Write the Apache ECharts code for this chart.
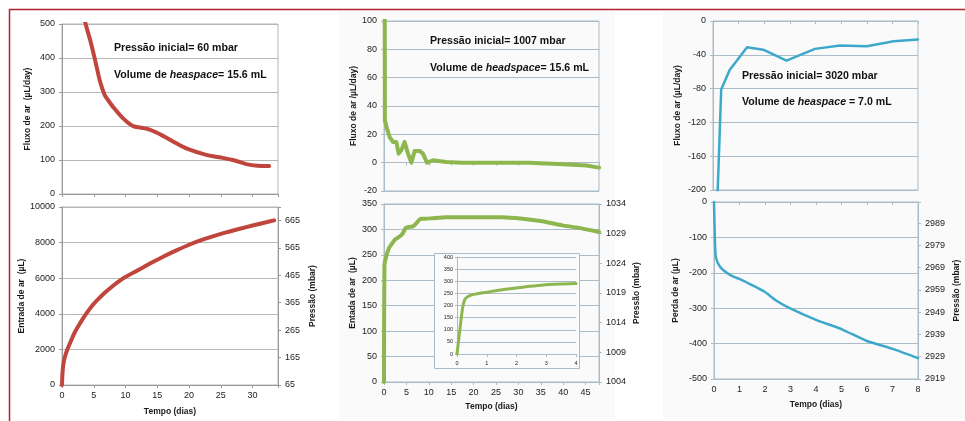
<!DOCTYPE html>
<html><head><meta charset="utf-8">
<script src="https://cdn.jsdelivr.net/npm/echarts@6/dist/echarts.min.js"></script>
<style>html,body{margin:0;padding:0;background:#fff}#c{width:965px;height:421px}</style>
</head><body><div id="c"></div>
<script>
// ---- Data ----
// Left panel: Pressão inicial 60 mbar
const fluxA_t = [3.5, 3.72, 4.4, 5.0, 5.5, 6.0, 6.7, 7.3, 8.0, 9.58, 11.15, 12.5, 13.8, 15.9, 18.0, 20.0, 22.7, 24.8, 26.9, 29.0, 30.8, 32.6];
const fluxA_v = [520, 500, 455, 410, 370, 330, 292, 275, 257, 223, 200, 195, 189, 171, 149, 131, 115, 108, 100, 88, 83, 82];
const inA_t = [0, 0.1, 0.3, 0.6, 0.84, 1.5, 2, 3, 3.6, 5, 6, 7, 8, 9, 9.9, 12, 14, 16, 18, 20, 22, 24, 26, 28, 30, 32, 33.4];
const inA_v = [0, 800, 1350, 1750, 2000, 2550, 2950, 3560, 3900, 4560, 4930, 5260, 5560, 5830, 6050, 6460, 6850, 7220, 7560, 7880, 8150, 8380, 8590, 8780, 8960, 9130, 9250];
// Middle panel: Pressão inicial 1007 mbar
const fluxB_t = [0, 0.05, 0.2, 0.67, 1.26, 2.0, 2.75, 3.27, 3.87, 4.6, 5.36, 6.1, 6.85, 7.96, 8.7, 9.6, 10.94, 13.9, 17.6, 25, 32.5, 40, 45.2, 48];
const fluxB_v = [400, 300, 30, 24, 18, 14.6, 14.6, 6.4, 8.7, 14.6, 6.4, 0, 8.3, 8.3, 6.4, 0, 1.7, 0.5, 0, 0, 0, -1.2, -2, -3.5];
const inB_t = [0, 0.1, 0.5, 1.1, 1.86, 2.6, 3.5, 4.24, 4.84, 5.58, 6.47, 7.2, 8.2, 9.3, 10.8, 13.8, 21.2, 26.4, 30.9, 35.3, 39.8, 43.5, 48];
const inB_v = [0, 230, 247, 263, 273, 281, 286, 293, 303, 305, 306, 312, 321, 321, 322, 324, 324, 324, 321, 316, 308, 303, 295];
const insetB_t = [0, 0.09, 0.18, 0.26, 0.38, 0.6, 1.06, 1.52, 1.98, 2.43, 2.89, 3.58, 4];
const insetB_v = [0, 93, 183, 224, 238, 247, 256, 265, 272, 279, 285, 289, 291];
// Right panel: Pressão inicial 3020 mbar
const fluxC_t = [0.12, 0.15, 0.32, 0.65, 1.33, 1.96, 2.87, 3.98, 4.96, 6.0, 7.05, 8.0];
const fluxC_v = [-400, -230, -81, -58, -31, -34, -47, -33, -29, -30, -24, -22];
const lossC_t = [0, 0.04, 0.08, 0.23, 0.5, 0.76, 1.02, 1.41, 1.97, 2.45, 2.97, 4.0, 5.06, 5.97, 7.01, 8.0];
const lossC_v = [0, -121, -158, -182, -200, -211, -218, -232, -253, -279, -300, -333, -361, -392, -415, -441];
// Right-axis (pressure) tick bases
const presA_min = 65, presB_min = 1004, presC_min = 2919;

const zip = (a, b) => a.map((v, i) => [v, b[i]]);
const isMult = (v, iv) => Math.abs(v / iv - Math.round(v / iv)) < 1e-6;

const FONT = '"Liberation Sans", Arial, sans-serif';
const RED = '#c0453c', GREEN = '#8db64e', BLUE = '#3ea8cb';
const GRAY = '#b7b7b7', BGRAY = '#a9bcc7';

function xAx(grid, max, interval, labels, lc, name, gap, fs) {
  return {
    type: 'value', gridIndex: grid, min: 0, max: max, interval: interval,
    name: name || '', nameLocation: 'middle', nameGap: gap || 20,
    nameTextStyle: { fontFamily: FONT, fontWeight: 'bold', fontSize: 8.5, color: '#1a1a1a' },
    axisLine: { show: true, lineStyle: { color: lc, width: 1 } },
    axisTick: { show: true, inside: false, length: 3, lineStyle: { color: lc } },
    axisLabel: { show: labels, margin: 6, fontFamily: FONT, fontSize: fs || 9, color: '#222',
      formatter: v => isMult(v, interval) ? String(v) : '' },
    splitLine: { show: false }, z: grid === 4 ? 5 : 0
  };
}
function yAx(grid, min, max, interval, lc, sc, name, gap, opts) {
  opts = opts || {};
  return Object.assign({
    type: 'value', gridIndex: grid, min: min, max: max, interval: interval,
    position: 'left',
    name: name || '', nameLocation: 'middle', nameGap: gap || 30, nameRotate: 90,
    nameTextStyle: { fontFamily: FONT, fontWeight: 'bold', fontSize: 8.5, color: '#1a1a1a' },
    axisLine: { show: true, lineStyle: { color: lc, width: 1 } },
    axisTick: { show: true, inside: false, length: 3, lineStyle: { color: lc } },
    axisLabel: { show: true, margin: 7, fontFamily: FONT, fontSize: 9, color: '#222', formatter: v => String(v) },
    splitLine: { show: true, lineStyle: { color: sc, width: 1 } }, z: grid === 4 ? 5 : 0
  }, opts);
}
function rightAx(grid, span, interval, base, lc, name, gap) {
  return {
    type: 'value', gridIndex: grid, min: 0, max: span, interval: interval, position: 'right',
    name: name, nameLocation: 'middle', nameGap: gap, nameRotate: 90,
    nameTextStyle: { fontFamily: FONT, fontWeight: 'bold', fontSize: 8.5, color: '#1a1a1a' },
    axisLine: { show: true, lineStyle: { color: lc } },
    axisTick: { show: true, length: 3, lineStyle: { color: lc } },
    axisLabel: { show: true, margin: 7, fontFamily: FONT, fontSize: 9, color: '#222',
      formatter: v => isMult(v, interval) ? String(Math.round(v + base)) : '' },
    splitLine: { show: false }
  };
}
function line(x, y, data, color, width, smooth, z) {
  return { type: 'line', xAxisIndex: x, yAxisIndex: y, data: data, showSymbol: false, symbol: 'none',
    smooth: smooth || false, lineStyle: { color: color, width: width, cap: 'round', join: 'round' },
    clip: true, z: z || 2, animation: false, silent: true };
}
function g(left, top, width, height, border) {
  return { left, top, width, height, show: true, borderColor: border, borderWidth: 1,
    backgroundColor: 'transparent', containLabel: false, outerBoundsMode: 'none' };
}
function txt(x, y, parts, fs) {
  return { type: 'text', left: x, top: y, z: 10, style: {
    text: parts, fontFamily: FONT, fontSize: fs, fontWeight: 'bold', fill: '#111',
    rich: { b: { fontFamily: FONT, fontSize: fs, fontWeight: 'bold', fill: '#111' },
            i: { fontFamily: FONT, fontSize: fs, fontWeight: 'bold', fontStyle: 'italic', fill: '#111' } } } };
}

const option = {
  animation: false,
  backgroundColor: '#ffffff',
  grid: [
    g(62, 24, 216, 170, GRAY),
    g(62, 207, 216, 178, GRAY),
    g(384, 21, 215, 170, BGRAY),
    g(384, 204, 215, 178, BGRAY),
    g(457, 257, 119, 97, BGRAY),
    g(713, 21, 205, 169, BGRAY),
    g(714, 202, 204, 177, BGRAY)
  ],
  xAxis: [
    xAx(0, 34, 5, false, '#999'),
    xAx(1, 34, 5, true, '#999', 'Tempo (dias)', 22),
    xAx(2, 48, 5, false, BGRAY),
    xAx(3, 48, 5, true, BGRAY, 'Tempo (dias)', 20),
    xAx(4, 4, 1, true, BGRAY, '', 0, 5.5),
    xAx(5, 8, 1, false, BGRAY),
    xAx(6, 8, 1, true, BGRAY, 'Tempo (dias)', 21)
  ],
  yAxis: [
    yAx(0, 0, 500, 100, '#999', GRAY, 'Fluxo de ar  (µL/day)', 29.5),
    yAx(1, 0, 10000, 2000, '#999', GRAY, 'Entrada de ar  (µL)', 29.5),
    rightAx(1, 714 - presA_min, 100, presA_min, '#999', 'Pressão (mbar)', 30),
    yAx(2, -20, 100, 20, BGRAY, BGRAY, 'Fluxo de ar /µL/day)', 21.5),
    yAx(3, 0, 350, 50, BGRAY, BGRAY, 'Entada de ar  (µL)', 26.5),
    rightAx(3, 30, 5, presB_min, BGRAY, 'Pressão (mbar)', 33),
    yAx(4, 0, 400, 50, BGRAY, BGRAY, '', 0, { axisLabel: { show: true, margin: 4, fontFamily: FONT, fontSize: 5.5, color: '#222' }, axisTick: { show: true, length: 2, lineStyle: { color: BGRAY } } }),
    yAx(5, -200, 0, 40, BGRAY, BGRAY, 'Fluxo de ar (µL/day)', 30.5),
    yAx(6, -500, 0, 100, BGRAY, BGRAY, 'Perda de ar (µL)', 34),
    rightAx(6, 2998.45 - presC_min, 10, presC_min, BGRAY, 'Pressão (mbar)', 34)
  ],
  graphic: [
    { type: 'rect', z: -5, shape: { x: 339, y: 11, width: 276, height: 408 }, style: { fill: '#fafafb' } },
    { type: 'rect', z: -5, shape: { x: 663, y: 11, width: 302, height: 408 }, style: { fill: '#fafafb' } },
    { type: 'line', z: 10, shape: { x1: 9, y1: 9.5, x2: 965, y2: 9.5 }, style: { stroke: '#b5222b', lineWidth: 1.5 } },
    { type: 'line', z: 10, shape: { x1: 9.5, y1: 9, x2: 9.5, y2: 421 }, style: { stroke: '#b5222b', lineWidth: 1.5 } },
    { type: 'rect', z: 1, shape: { x: 434.5, y: 253.5, width: 145, height: 115 }, style: { fill: '#fbfbfc', stroke: BGRAY, lineWidth: 1 } },
    txt(114, 43, '{b|Pressão inicial= 60 mbar}', 10.6),
    txt(114, 70, '{b|Volume de }{i|heaspace}{b|= 15.6 mL}', 10.6),
    txt(430, 36, '{b|Pressão inicial= 1007 mbar}', 10.6),
    txt(430, 63, '{b|Volume de }{i|headspace}{b|= 15.6 mL}', 10.6),
    txt(742, 71, '{b|Pressão inicial= 3020 mbar}', 10.6),
    txt(742, 97, '{b|Volume de }{i|heaspace}{b| = 7.0 mL}', 10.6)
  ],
  series: [
    line(0, 0, zip(fluxA_t, fluxA_v), RED, 4, 0.35),
    line(1, 1, zip(inA_t, inA_v), RED, 4, 0.3),
    line(2, 3, zip(fluxB_t, fluxB_v), GREEN, 4, false),
    line(3, 4, zip(inB_t, inB_v), GREEN, 4, 0.2),
    line(4, 6, zip(insetB_t, insetB_v), GREEN, 3, 0.2, 6),
    line(5, 7, zip(fluxC_t, fluxC_v), BLUE, 2.5, false),
    line(6, 8, zip(lossC_t, lossC_v), BLUE, 2.5, 0.2)
  ]
};
const chart = echarts.init(document.getElementById('c'), null, { renderer: 'canvas' });
chart.setOption(option);
</script></body></html>
